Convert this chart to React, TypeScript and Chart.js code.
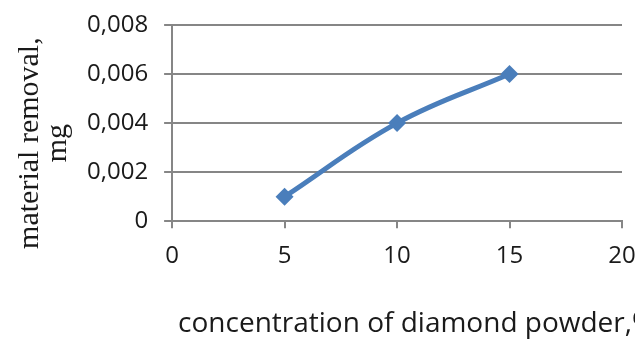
import React, { useEffect, useRef } from "react";
import { Chart, registerables } from "chart.js";

Chart.register(...registerables);

// Diamond powder concentration (%) vs. material removal (mg)
const concentration = [5, 10, 15];
const removal = [0.001, 0.004, 0.006];
const xTicks = [0, 5, 10, 15, 20];
const yTicks = [0, 0.002, 0.004, 0.006, 0.008];

const xTitle = "concentration of diamond powder,%";
const yTitle = ["material removal,", "mg"];

const lineBlue = "#4A7EBB";
const axisGray = "#868686";
const textColor = "#1a1a1a";
const tickFont = { family: "'Open Sans', sans-serif", size: 24 };

function formatComma(v: number): string {
  if (v === 0) return "0";
  return v.toFixed(3).replace(".", ",");
}

// Axis titles: a two-line rotated serif title on the left and a long
// sans-serif title under the x axis that runs past the right edge.
const axisTitlesPlugin = {
  id: "axisTitles",
  afterDraw(chart: any) {
    const { ctx, chartArea } = chart;
    ctx.save();
    ctx.fillStyle = textColor;

    ctx.font = "30px 'Liberation Serif', serif";
    ctx.textAlign = "center";
    ctx.textBaseline = "alphabetic";
    const cy = (chartArea.top + chartArea.bottom) / 2 + 20;
    const baselines = [38, 66];
    yTitle.forEach((line, i) => {
      ctx.save();
      ctx.translate(baselines[i], cy);
      ctx.rotate(-Math.PI / 2);
      ctx.fillText(line, 0, 0);
      ctx.restore();
    });

    ctx.font = "28px 'Open Sans', sans-serif";
    ctx.textAlign = "left";
    ctx.fillText(xTitle, chartArea.left + 6, chartArea.bottom + 111);
    ctx.restore();
  },
};

export default function App() {
  const canvasRef = useRef<HTMLCanvasElement | null>(null);

  useEffect(() => {
    const canvas = canvasRef.current;
    if (!canvas) return;
    const chart = new Chart(canvas, {
      type: "line",
      data: {
        datasets: [
          {
            data: concentration.map((c, i) => ({ x: c, y: removal[i] })),
            borderColor: lineBlue,
            backgroundColor: lineBlue,
            borderWidth: 5,
            tension: 0.4,
            pointStyle: "rectRot",
            pointRadius: 9,
            pointBorderWidth: 0,
            fill: false,
          },
        ],
      },
      plugins: [axisTitlesPlugin],
      options: {
        responsive: false,
        animation: false,
        devicePixelRatio: 1,
        layout: { autoPadding: false, padding: { top: 0, right: 38, left: 71, bottom: 56 } },
        plugins: { legend: { display: false }, tooltip: { enabled: false } },
        scales: {
          x: {
            type: "linear",
            min: xTicks[0],
            max: xTicks[xTicks.length - 1],
            afterBuildTicks: (axis: any) => {
              axis.ticks = xTicks.map((v) => ({ value: v }));
            },
            grid: {
              drawOnChartArea: false,
              drawTicks: true,
              tickLength: 7,
              color: axisGray,
              lineWidth: 2,
            },
            border: { color: axisGray, width: 2 },
            ticks: { font: tickFont, color: textColor, padding: 14, maxRotation: 0 },
          },
          y: {
            type: "linear",
            min: yTicks[0],
            max: yTicks[yTicks.length - 1],
            afterBuildTicks: (axis: any) => {
              axis.ticks = yTicks.map((v) => ({ value: v }));
            },
            afterFit: (axis: any) => {
              axis.paddingTop = 25;
              axis.paddingBottom = 15;
            },
            grid: {
              drawTicks: true,
              tickLength: 8,
              color: axisGray,
              lineWidth: 2,
            },
            border: { color: axisGray, width: 2 },
            ticks: {
              font: tickFont,
              color: textColor,
              padding: 16,
              callback: (v: any) => formatComma(Number(v)),
            },
          },
        },
      },
    });
    return () => chart.destroy();
  }, []);

  return (
    <div
      style={{
        position: "absolute",
        left: 0,
        top: 0,
        width: 635,
        height: 341,
        overflow: "hidden",
        background: "#ffffff",
      }}
    >
      <canvas ref={canvasRef} width={660} height={341} />
    </div>
  );
}
